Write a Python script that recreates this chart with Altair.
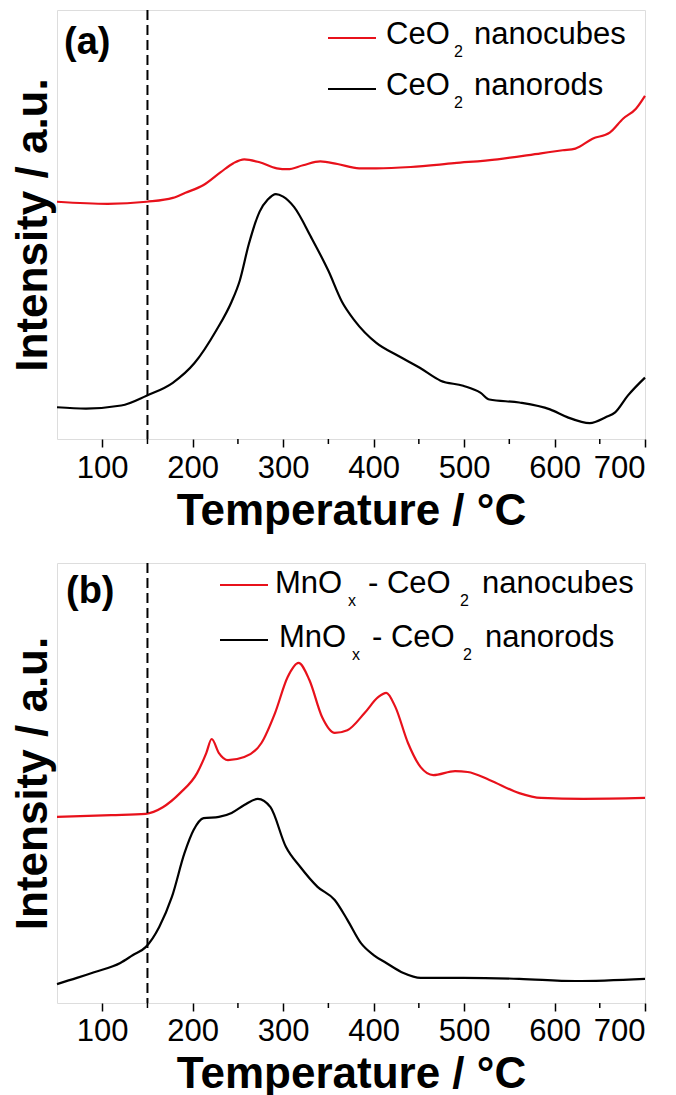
import altair as alt
import pandas as pd

# ---------------- data ----------------
# Panel (a)
T_A_CUBES = [50, 106, 149, 178, 192, 212, 231, 245, 257, 274, 293, 305, 322, 341, 360,
             384, 403, 441, 489, 537, 585, 609, 623, 642, 661, 676, 690, 700]
I_A_CUBES = [55.3, 54.8, 55.3, 56.2, 57.4, 59.2, 62.2, 64.3, 65.2, 64.5, 63.1, 62.9, 63.8, 64.7, 64.1,
             63.1, 63.1, 63.4, 64.3, 65.2, 66.6, 67.3, 67.7, 70.0, 71.4, 74.7, 77.0, 80.0]

T_A_RODS = [50, 82, 121, 149, 178, 202, 226, 243, 252, 262, 274, 283, 292, 300, 312, 331, 350,
            365, 379, 403, 427, 451, 474, 499, 518, 528, 561, 595, 614, 639, 657, 667, 681, 700]
I_A_RODS = [7.4, 7.1, 7.8, 10.1, 13.1, 17.7, 25.3, 32.0, 36.9, 45.4, 53.0, 55.8, 57.1, 56.5, 54.1, 47.0, 39.2,
            32.0, 27.6, 22.4, 19.4, 16.6, 13.6, 12.4, 10.8, 9.2, 8.5, 6.9, 5.1, 3.7, 5.1, 6.2, 10.1, 14.3]

# Panel (b)
T_B_CUBES = [50, 110, 148, 167, 186, 205, 215, 221, 229, 239, 257, 276, 291, 305, 317, 329, 343,
             357, 371, 390, 405, 414, 424, 438, 452, 466, 490, 504, 528, 561, 585, 632, 700]
I_B_CUBES = [42.3, 42.7, 43.0, 44.5, 47.7, 52.3, 56.8, 60.0, 56.8, 55.2, 55.9, 59.1, 65.9, 74.1, 77.3, 73.4, 65.0,
             61.4, 62.0, 65.9, 69.5, 70.5, 67.3, 59.1, 53.6, 51.8, 52.7, 52.5, 50.7, 47.7, 46.6, 46.4, 46.6]

T_B_RODS = [50, 72, 91, 120, 134, 148, 163, 177, 191, 201, 212, 229, 243, 257, 272, 286, 303, 319,
            338, 357, 371, 386, 400, 414, 433, 452, 499, 561, 623, 700]
I_B_RODS = [4.3, 5.7, 7.0, 9.1, 10.9, 12.7, 17.3, 24.1, 34.1, 39.3, 42.0, 42.3, 43.2, 45.0, 46.4, 44.5, 35.5, 30.9,
            26.4, 23.4, 18.9, 13.6, 10.9, 9.1, 6.8, 5.7, 5.7, 5.5, 5.0, 5.5]

MAJOR_TICKS = [100, 200, 300, 400, 500, 600, 700]
MINOR_TICKS = [150, 250, 350, 450, 550, 650]
DASH_T = [150]

RED = "#e8111b"
BLACK = "#000000"
FONT = "Liberation Sans"

W = 588


def curve(t, i, color):
    return alt.Chart(pd.DataFrame({"T": t, "I": i})).mark_line(
        color=color, strokeWidth=2.2, interpolate="monotone"
    )


def panel(H, label, label_xy, legend_lines, legend_texts, t_lab_pad, title_y,
          series):
    xenc = alt.X(
        "T:Q",
        scale=alt.Scale(domain=[50, 700], nice=False, zero=False),
        axis=alt.Axis(
            values=MAJOR_TICKS, title="Temperature / °C", domain=False, grid=False,
            tickSize=8, tickWidth=1.5, tickColor="black",
            labelFont=FONT, labelFontSize=31, labelColor="black", labelPadding=t_lab_pad,
            titleFont=FONT, titleFontSize=44, titleFontWeight="bold", titleColor="black",
            titleBaseline="alphabetic", titleY=title_y,
        ),
    )
    yenc = alt.Y(
        "I:Q",
        scale=alt.Scale(domain=[0, 100], nice=False, zero=False),
        axis=alt.Axis(
            title="Intensity / a.u.", labels=False, ticks=False, domain=False, grid=False,
            titleFont=FONT, titleFontSize=44, titleFontWeight="bold", titleColor="black",
            titlePadding=2,
        ),
    )
    layers = []
    for t, i, c in series:
        layers.append(curve(t, i, c).encode(x=xenc, y=yenc))
    # dashed line at 150 C
    layers.append(
        alt.Chart(pd.DataFrame({"T": DASH_T})).mark_rule(
            color="black", strokeWidth=2, strokeDash=[10, 5]
        ).encode(x=xenc)
    )
    # minor ticks
    layers.append(
        alt.Chart(pd.DataFrame({"T": MINOR_TICKS})).mark_rule(
            color="black", strokeWidth=1.5
        ).encode(x=xenc, y=alt.value(H), y2=alt.value(H + 5))
    )
    one = pd.DataFrame({"k": [0]})
    for (x1, x2, y, c) in legend_lines:
        layers.append(
            alt.Chart(one).mark_rule(color=c, strokeWidth=2.2).encode(
                x=alt.value(x1), x2=alt.value(x2), y=alt.value(y)
            )
        )
    for (txt, x, y, size) in legend_texts:
        layers.append(
            alt.Chart(pd.DataFrame({"s": [txt]})).mark_text(
                align="left", baseline="alphabetic", font=FONT, fontSize=size, color="black"
            ).encode(text="s:N", x=alt.value(x), y=alt.value(y))
        )
    layers.append(
        alt.Chart(pd.DataFrame({"s": [label]})).mark_text(
            align="left", baseline="alphabetic", font=FONT, fontSize=38,
            fontWeight="bold", color="black"
        ).encode(text="s:N", x=alt.value(label_xy[0]), y=alt.value(label_xy[1]))
    )
    return alt.layer(*layers).properties(width=W, height=H)


MAIN = 31
SUB = 16

panel_a = panel(
    429, "(a)", (7, 44),
    [(271, 319, 28, RED), (271, 319, 79, BLACK)],
    [
        ("CeO", 329, 34, MAIN), ("2", 397, 47, SUB), ("nanocubes", 417, 34, MAIN),
        ("CeO", 329, 85, MAIN), ("2", 397, 98, SUB), ("nanorods", 417, 85, MAIN),
    ],
    6, 85,
    [(T_A_CUBES, I_A_CUBES, RED), (T_A_RODS, I_A_RODS, BLACK)],
)

panel_b = panel(
    440, "(b)", (9, 40),
    [(163, 211, 22, RED), (163, 211, 77, BLACK)],
    [
        ("MnO", 218, 30, MAIN), ("x", 291, 43, SUB), ("- CeO", 311, 30, MAIN),
        ("2", 403, 43, SUB), ("nanocubes", 425, 30, MAIN),
        ("MnO", 222, 84, MAIN), ("x", 295, 97, SUB), ("- CeO", 315, 84, MAIN),
        ("2", 406, 97, SUB), ("nanorods", 428, 84, MAIN),
    ],
    5, 84,
    [(T_B_CUBES, I_B_CUBES, RED), (T_B_RODS, I_B_RODS, BLACK)],
)

chart = alt.vconcat(panel_a, panel_b, spacing=124, bounds="flush").properties(
    padding={"left": 2, "top": 0, "right": 0, "bottom": 0}
).configure_view(
    stroke="black", strokeWidth=1.5
).configure(font=FONT, background="white")

chart.save("out.html", embed_options={"renderer": "svg", "actions": False})
